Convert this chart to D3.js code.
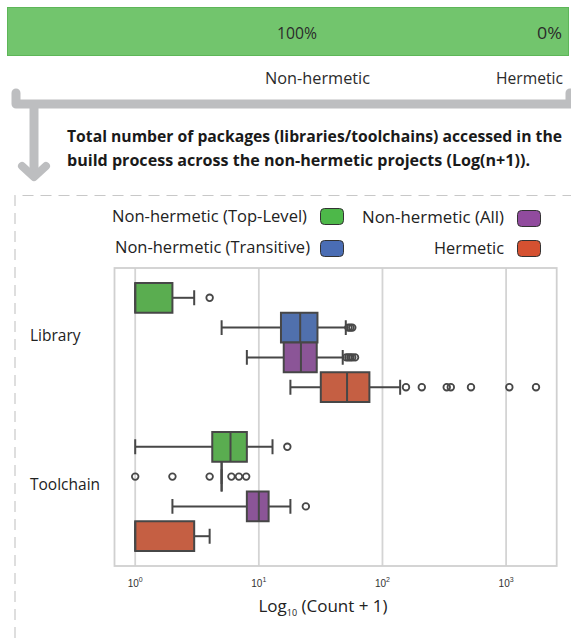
<!DOCTYPE html>
<html>
<head>
<meta charset="utf-8">
<script src="https://cdn.jsdelivr.net/npm/d3@7"></script>
<style>
  html, body { margin: 0; padding: 0; background: #fff; }
  svg { display: block; }
</style>
</head>
<body>
<div id="chart"></div>
<script>
// ---- data ----
const categories = ["Library", "Toolchain"];
const seriesNames = [
  "Non-hermetic (Top-Level)",
  "Non-hermetic (Transitive)",
  "Non-hermetic (All)",
  "Hermetic"
];
// box stats per series: [lower whisker, Q1, median, Q3, upper whisker] on Count + 1
const libraryBoxes = [
  [1, 1, 1, 2, 3],
  [5, 15.1, 21.6, 29.8, 50.5],
  [8, 15.9, 21.9, 29.4, 47.7],
  [18, 31.7, 51.7, 78.4, 139]
];
const toolchainBoxes = [
  [1, 4.2, 5.9, 8, 12.9],
  [5, 5, 5, 5, 5],
  [2, 8, 10, 12, 18],
  [1, 1, 1, 3, 4]
];
const libraryOutliers = [
  [4],
  [53, 55, 57],
  [51, 53, 55, 57, 60],
  [155, 208, 331, 357, 520, 1062, 1745]
];
const toolchainOutliers = [
  [17],
  [1, 2, 4, 6, 6.9, 7.9],
  [24],
  []
];
const tickValues = [1, 10, 100, 1000];
const tickExponents = ["0", "1", "2", "3"];

const shareLabels = ["100%", "0%"];
const shareNames = ["Non-hermetic", "Hermetic"];
const captionLines = [
  "Total number of packages (libraries/toolchains) accessed in the",
  "build process across the non-hermetic projects (Log(n+1))."
];

const legendColors = ["#4db849", "#4a6db4", "#914b9e", "#d55131"];
const boxColors = ["#5aad50", "#5070ad", "#8b5597", "#c55f43"];

// ---- setup ----
const W = 571, H = 638;
const FONT = "'Open Sans', 'Noto Sans', sans-serif";
const svg = d3.select("#chart").append("svg").attr("width", W).attr("height", H);

function fitText(sel, w) {
  sel.attr("textLength", w).attr("lengthAdjust", "spacingAndGlyphs");
  return sel;
}

// ---- share bar at the top ----
svg.append("rect")
  .attr("x", 7.5).attr("y", 7.5).attr("width", 561).attr("height", 48)
  .attr("fill", "#72c56d").attr("stroke", "#5db658").attr("stroke-width", 1);

const shareX = [[277, 40], [537, 25]];
shareLabels.forEach((t, i) => {
  fitText(svg.append("text")
    .attr("x", shareX[i][0]).attr("y", 38.5)
    .attr("font-family", FONT).attr("font-size", 15.5).attr("fill", "#2b2b2b")
    .text(t), shareX[i][1]);
});
const nameX = [[265, 105], [496, 67]];
shareNames.forEach((t, i) => {
  fitText(svg.append("text")
    .attr("x", nameX[i][0]).attr("y", 83.5)
    .attr("font-family", FONT).attr("font-size", 15.5).attr("fill", "#2b2b2b")
    .text(t), nameX[i][1]);
});

// bracket and arrow
const grey = "#bdbec0";
svg.append("path")
  .attr("d", "M16,93 V104 H570 V93")
  .attr("fill", "none").attr("stroke", grey).attr("stroke-width", 9)
  .attr("stroke-linecap", "round").attr("stroke-linejoin", "round");
svg.append("path")
  .attr("d", "M34,104 V175")
  .attr("fill", "none").attr("stroke", grey).attr("stroke-width", 9);
svg.append("path")
  .attr("d", "M22,166 L34,177 L46,166")
  .attr("fill", "none").attr("stroke", grey).attr("stroke-width", 8)
  .attr("stroke-linecap", "round").attr("stroke-linejoin", "round");

const captionW = [495, 463];
captionLines.forEach((t, i) => {
  fitText(svg.append("text")
    .attr("x", 67).attr("y", 142 + i * 24)
    .attr("font-family", FONT).attr("font-size", 15.5).attr("font-weight", 700)
    .attr("fill", "#1a1a1a")
    .text(t), captionW[i]);
});

// dashed frame around the chart panel
svg.append("path")
  .attr("d", "M15,638 V195.5 H571")
  .attr("fill", "none").attr("stroke", "#c8c8c8").attr("stroke-width", 1.2)
  .attr("stroke-dasharray", "11,7");

// ---- legend ----
const legendItems = [
  { i: 0, tx: 112, tw: 195, by: 222, sx: 320, sy: 208 },
  { i: 2, tx: 362, tw: 142, by: 223, sx: 517, sy: 210 },
  { i: 1, tx: 115, tw: 195, by: 253, sx: 320, sy: 240 },
  { i: 3, tx: 434, tw: 70, by: 254, sx: 517, sy: 240 }
];
legendItems.forEach(d => {
  fitText(svg.append("text")
    .attr("x", d.tx).attr("y", d.by)
    .attr("font-family", FONT).attr("font-size", 15.5).attr("fill", "#222")
    .text(seriesNames[d.i]), d.tw);
  svg.append("rect")
    .attr("x", d.sx + 0.5).attr("y", d.sy + 0.5).attr("width", 23).attr("height", 16)
    .attr("rx", 4).attr("fill", legendColors[d.i])
    .attr("stroke", "#333").attr("stroke-width", 1);
});

// ---- box plot ----
const plot = { left: 114.5, right: 556.7, top: 268, bottom: 566 };
const x = d3.scaleLog().domain([0.68, 2566]).range([plot.left, plot.right]);
const y = d3.scaleBand().domain(categories).range([plot.top, plot.bottom]).paddingInner(0).paddingOuter(0);
const slot = d3.scaleBand().domain(seriesNames).range([-0.4 * y.bandwidth(), 0.4 * y.bandwidth()]);

// gridlines
svg.append("g").selectAll("line").data(tickValues).join("line")
  .attr("x1", d => x(d)).attr("x2", d => x(d))
  .attr("y1", plot.top).attr("y2", plot.bottom)
  .attr("stroke", "#d4d4d4").attr("stroke-width", 1.8);

// frame
svg.append("rect")
  .attr("x", plot.left).attr("y", plot.top)
  .attr("width", plot.right - plot.left).attr("height", plot.bottom - plot.top)
  .attr("fill", "none").attr("stroke", "#d0d0d0").attr("stroke-width", 1.8);

// tick labels with superscript exponent
const tickG = svg.append("g");
tickValues.forEach((v, i) => {
  const t = tickG.append("text")
    .attr("x", x(v)).attr("y", 587)
    .attr("text-anchor", "middle")
    .attr("font-family", "'Liberation Sans', Arial, sans-serif")
    .attr("font-size", 10).attr("fill", "#333");
  t.append("tspan").text("10");
  t.append("tspan").attr("dy", -5).attr("font-size", 7).text(tickExponents[i]);
});

// axis title
const title = svg.append("text")
  .attr("x", 323).attr("y", 612).attr("text-anchor", "middle")
  .attr("font-family", FONT).attr("font-size", 17).attr("fill", "#222");
title.append("tspan").text("Log");
title.append("tspan").attr("dy", 4).attr("font-size", 9).text("10");
title.append("tspan").attr("dy", -4).text(" (Count + 1)");

// category labels
categories.forEach(c => {
  svg.append("text")
    .attr("x", 30).attr("y", y(c) + y.bandwidth() / 2 - 2)
    .attr("font-family", FONT).attr("font-size", 15.5).attr("fill", "#222")
    .text(c);
});

const stroke = "#474747";
const allBoxes = [libraryBoxes, toolchainBoxes];
const allOutliers = [libraryOutliers, toolchainOutliers];
const boxG = svg.append("g");

categories.forEach((c, ci) => {
  const cy = y(c) + y.bandwidth() / 2;
  seriesNames.forEach((s, si) => {
    const [lo, q1, med, q3, hi] = allBoxes[ci][si];
    const y0 = cy + slot(s);
    const h = slot.bandwidth();
    const ym = y0 + h / 2;
    const cap = h * 0.25;
    const g = boxG.append("g");
    // whiskers
    g.append("path")
      .attr("d", `M${x(lo)},${ym} H${x(q1)} M${x(q3)},${ym} H${x(hi)}`)
      .attr("stroke", stroke).attr("stroke-width", 2).attr("fill", "none");
    // whisker caps
    g.append("path")
      .attr("d", `M${x(lo)},${ym - cap} V${ym + cap} M${x(hi)},${ym - cap} V${ym + cap}`)
      .attr("stroke", stroke).attr("stroke-width", 2).attr("fill", "none");
    // box
    g.append("path")
      .attr("d", `M${x(q1)},${y0} H${x(q3)} V${y0 + h} H${x(q1)} Z`)
      .attr("fill", boxColors[si]).attr("stroke", stroke).attr("stroke-width", 2);
    // median
    g.append("line")
      .attr("x1", x(med)).attr("x2", x(med)).attr("y1", y0).attr("y2", y0 + h)
      .attr("stroke", stroke).attr("stroke-width", 2);
    // outliers
    g.selectAll("circle").data(allOutliers[ci][si]).join("circle")
      .attr("cx", d => x(d)).attr("cy", ym).attr("r", 3.3)
      .attr("fill", "none").attr("stroke", stroke).attr("stroke-width", 1.8);
  });
});
</script>
</body>
</html>
